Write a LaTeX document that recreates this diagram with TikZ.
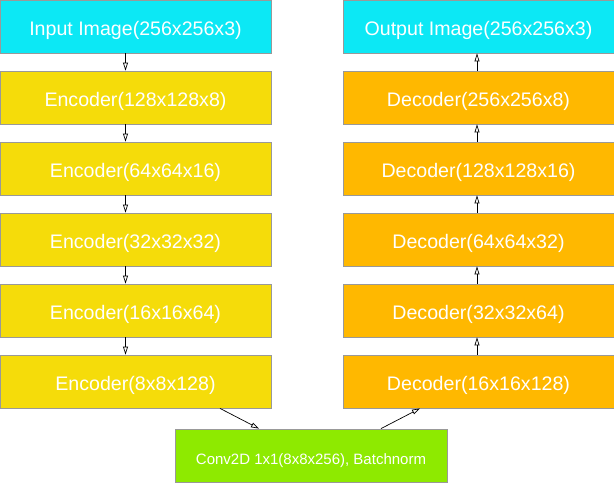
\documentclass[tikz,border=0pt]{standalone}
\usepackage{fontspec}
\setmainfont{Liberation Sans}
\usetikzlibrary{arrows.meta}
\definecolor{cyanbox}{HTML}{0CE8F5}
\definecolor{encbox}{HTML}{F5DC0A}
\definecolor{decbox}{HTML}{FFB800}
\definecolor{midbox}{HTML}{8EEA00}
\definecolor{edgegray}{HTML}{999999}
\tikzset{
  blk/.style={draw=edgegray, line width=0.8pt, minimum width=271pt, minimum height=53pt, inner sep=0pt, text=white, text height=17pt, text depth=0pt, font=\fontsize{19.6}{22}\selectfont},
  arr/.style={-{Triangle[open,length=8pt,width=5pt]}, line width=0.7pt, black}
}
\begin{document}
\begin{tikzpicture}[x=1pt,y=-1pt]
\useasboundingbox (0,0) rectangle (614,483);
\node[blk, fill=cyanbox] (in) at (135.5,26.5) {Input Image(256x256x3)};
\node[blk, fill=encbox] (e1) at (135.5,97.5) {Encoder(128x128x8)};
\node[blk, fill=encbox] (e2) at (135.5,168.5) {Encoder(64x64x16)};
\node[blk, fill=encbox] (e3) at (135.5,239.5) {Encoder(32x32x32)};
\node[blk, fill=encbox] (e4) at (135.5,310.5) {Encoder(16x16x64)};
\node[blk, fill=encbox] (e5) at (135.5,381.5) {Encoder(8x8x128)};
\node[blk, fill=cyanbox] (out) at (478.5,26.5) {Output Image(256x256x3)};
\node[blk, fill=decbox] (d5) at (478.5,97.5) {Decoder(256x256x8)};
\node[blk, fill=decbox] (d4) at (478.5,168.5) {Decoder(128x128x16)};
\node[blk, fill=decbox] (d3) at (478.5,239.5) {Decoder(64x64x32)};
\node[blk, fill=decbox] (d2) at (478.5,310.5) {Decoder(32x32x64)};
\node[blk, fill=decbox] (d1) at (478.5,381.5) {Decoder(16x16x128)};
\node[blk, fill=midbox, minimum width=272pt, font=\fontsize{15}{17}\selectfont] (mid) at (311,455.5) {Conv2D 1x1(8x8x256), Batchnorm};
\foreach \a/\b in {in/e1,e1/e2,e2/e3,e3/e4,e4/e5}{
  \draw[arr] ([xshift=-10pt]\a.south) -- ([xshift=-10pt]\b.north);
}
\foreach \a/\b in {d1/d2,d2/d3,d3/d4,d4/d5,d5/out}{
  \draw[arr] ([xshift=-1.5pt]\a.north) -- ([xshift=-1.5pt]\b.south);
}
\draw[arr] ([xshift=84.5pt]e5.south) -- ([xshift=-52pt]mid.north);
\draw[arr] ([xshift=70pt]mid.north) -- ([xshift=-58.5pt]d1.south);
\end{tikzpicture}
\end{document}
